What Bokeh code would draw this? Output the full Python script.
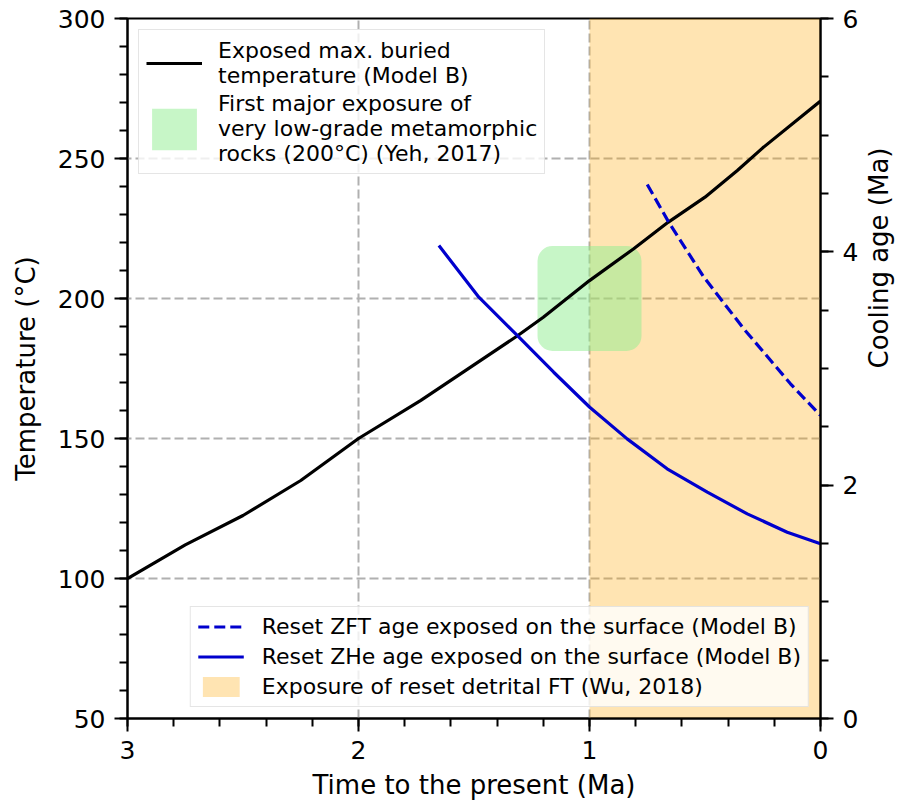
import math
from bokeh.plotting import figure
from bokeh.models import Range1d, LinearAxis, FixedTicker, Legend, LegendItem
from bokeh.embed import file_html
from bokeh.resources import INLINE

# ---- data ----
time_black = [3.0, 2.75, 2.5, 2.25, 2.0, 1.73, 1.56, 1.31, 1.2, 1.0, 0.81, 0.66, 0.5, 0.36, 0.25, 0.0]
temp_black = [100, 112, 122.5, 135, 150, 163.6, 173, 186.8, 193.3, 206.4, 217.7, 227.2, 236.2, 245.7, 253.8, 270.5]

time_zhe = [1.652, 1.479, 1.313, 1.155, 0.999, 0.837, 0.664, 0.490, 0.317, 0.144, 0.0]
age_zhe = [4.054, 3.611, 3.283, 2.968, 2.668, 2.397, 2.140, 1.940, 1.754, 1.597, 1.497]

time_zft = [0.750, 0.657, 0.505, 0.332, 0.130, 0.0]
age_zft = [4.577, 4.254, 3.783, 3.340, 2.869, 2.597]

exposure_start, exposure_end = 1.0, 0.0          # reset detrital FT window (Ma)
green_time, green_temp = 1.0, 200.0              # first major exposure
green_dt, green_dT = 0.45, 37.5

x_ticks = [3, 2, 1, 0]
t_ticks = [50, 100, 150, 200, 250, 300]
a_ticks = [0, 2, 4, 6]

FONT = "DejaVu Sans"

p = figure(frame_width=693, frame_height=700,
           x_range=Range1d(3, 0), y_range=Range1d(50, 300),
           output_backend="svg", toolbar_location=None,
           min_border_left=127, min_border_right=79,
           min_border_top=18, min_border_bottom=94,
           background_fill_color="white", border_fill_color="white")
p.extra_y_ranges = {"age": Range1d(0, 6)}

orange_r = p.quad(left=[exposure_start], right=[exposure_end], bottom=[50], top=[300],
                  fill_color="orange", fill_alpha=0.3, line_color=None)
green_r = p.quad(left=[green_time + green_dt / 2], right=[green_time - green_dt / 2],
                 bottom=[green_temp - green_dT / 2], top=[green_temp + green_dT / 2],
                 fill_color="lightgreen", fill_alpha=0.5, line_color=None,
                 border_radius=15)
black_r = p.line(time_black, temp_black, line_color="black", line_width=3.2)
zft_r = p.line(time_zft, age_zft, y_range_name="age", line_color="mediumblue",
               line_width=3.2, line_dash="11 5")
zhe_r = p.line(time_zhe, age_zhe, y_range_name="age", line_color="mediumblue",
               line_width=3.2)

# axes
p.xaxis.ticker = FixedTicker(ticks=x_ticks, minor_ticks=[i * 0.2 for i in range(16)])
p.yaxis.ticker = FixedTicker(ticks=t_ticks, minor_ticks=list(range(50, 301, 10)))
p.xaxis.axis_label = "Time to the present (Ma)"
p.yaxis.axis_label = "Temperature (°C)"

right = LinearAxis(y_range_name="age", axis_label="Cooling age (Ma)",
                   ticker=FixedTicker(ticks=a_ticks, minor_ticks=[i * 0.5 for i in range(13)]))
p.add_layout(right, "right")
right.axis_label_orientation = math.pi / 2

for ax in [p.xaxis[0], p.yaxis[0], right]:
    ax.axis_line_width = 2
    ax.axis_line_color = "black"
    ax.major_tick_line_width = 2
    ax.minor_tick_line_width = 2
    ax.major_tick_in = 0
    ax.major_tick_out = 13
    ax.minor_tick_in = 0
    ax.minor_tick_out = 8
    ax.major_label_text_font = FONT
    ax.major_label_text_font_size = "25px"
    ax.major_label_text_color = "black"
    ax.major_label_standoff = 9
    ax.axis_label_text_font = FONT
    ax.axis_label_text_font_size = "26px"
    ax.axis_label_text_font_style = "normal"
    ax.axis_label_text_color = "black"

p.xaxis[0].axis_label_standoff = 8
p.yaxis[0].axis_label_standoff = 14
right.axis_label_standoff = 18

p.outline_line_color = "black"
p.outline_line_width = 2
p.outline_line_alpha = 1

for g in [p.xgrid[0], p.ygrid[0]]:
    g.grid_line_color = "#b0b0b0"
    g.grid_line_width = 2
    g.grid_line_dash = "9 4"

leg_top = Legend(items=[
    LegendItem(label="Exposed max. buried\ntemperature (Model B)", renderers=[black_r]),
    LegendItem(label="First major exposure of\nvery low-grade metamorphic\nrocks (200°C) (Yeh, 2017)",
               renderers=[green_r]),
], location="top_left")
leg_bot = Legend(items=[
    LegendItem(label="Reset ZFT age exposed on the surface (Model B)", renderers=[zft_r]),
    LegendItem(label="Reset ZHe age exposed on the surface (Model B)", renderers=[zhe_r]),
    LegendItem(label="Exposure of reset detrital FT (Wu, 2018)", renderers=[orange_r]),
], location="bottom_right")

for lg in [leg_top, leg_bot]:
    lg.label_text_font = FONT
    lg.label_text_font_size = "22px"
    lg.label_text_color = "black"
    lg.background_fill_color = "white"
    lg.background_fill_alpha = 0.8
    lg.border_line_color = "#cccccc"
    lg.border_line_width = 1.5
    lg.margin = 11
    lg.padding = 7

leg_top.glyph_width = 56
leg_top.glyph_height = 52
leg_top.label_standoff = 16
leg_top.spacing = 2
leg_bot.glyph_width = 46
leg_bot.glyph_height = 25
leg_bot.label_standoff = 18
leg_bot.spacing = 5

p.add_layout(leg_top)
p.add_layout(leg_bot)

open("out.html", "w").write(file_html(p, INLINE))
